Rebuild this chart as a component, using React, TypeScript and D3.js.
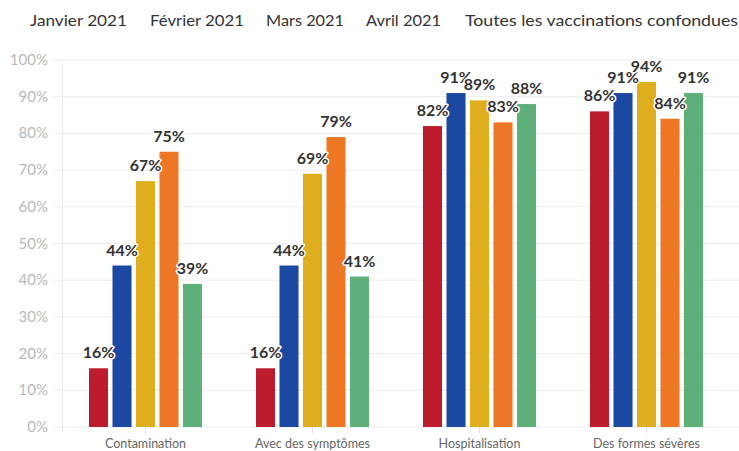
import React from "react";
import * as d3 from "d3";

const categories = ["Contamination", "Avec des symptômes", "Hospitalisation", "Des formes sévères"];
const seriesNames = ["Janvier 2021", "Février 2021", "Mars 2021", "Avril 2021", "Toutes les vaccinations confondues"];
const janvier = [16, 16, 82, 86];
const fevrier = [44, 44, 91, 91];
const mars = [67, 69, 89, 94];
const avril = [75, 79, 83, 84];
const toutes = [39, 41, 88, 91];
const seriesValues = [janvier, fevrier, mars, avril, toutes];
const colors = ["#bd1b2e", "#1b48a1", "#dfae1e", "#ed7725", "#5eb07b"];
const yTicks = [0, 10, 20, 30, 40, 50, 60, 70, 80, 90, 100];
const legendX = [30, 150, 266, 366, 465];
const legendW = [97, 94, 78, 75, 273];

const W = 739, H = 451;
const FONT = "Lato, 'Open Sans', sans-serif";

export default function App() {
  const x0 = d3.scaleBand<string>().domain(categories).range([62, 730]).paddingInner(0).paddingOuter(0);
  const bw = x0.bandwidth();
  const groupSpan = 113;
  const x1 = d3.scaleBand<number>().domain(d3.range(seriesNames.length)).range([(bw - groupSpan) / 2, (bw + groupSpan) / 2]).paddingInner(0.19).paddingOuter(0);
  const y = d3.scaleLinear().domain([0, 100]).range([427, 60]);

  return (
    <svg width={W} height={H} style={{ position: "absolute", left: 0, top: 0, fontFamily: FONT }}>
      <rect width={W} height={H} fill="#fff" />
      {yTicks.map((t) => (
        <g key={t}>
          <line x1={53} x2={739} y1={y(t)} y2={y(t)} stroke="#ececec" strokeWidth={1} />
          <text x={48} y={y(t) + 5} textAnchor="end" fontSize={15} fill="#b8b8b8">{t}%</text>
        </g>
      ))}
      <line x1={62.5} x2={62.5} y1={60} y2={432} stroke="#ececec" />
      {categories.map((c) => (
        <g key={c}>
          <line x1={x0(c)! + bw / 2} x2={x0(c)! + bw / 2} y1={427} y2={433} stroke="#e0e0e0" />
          <text x={x0(c)! + bw / 2} y={448} textAnchor="middle" fontSize={12.5} fill="#666">{c}</text>
        </g>
      ))}
      {seriesValues.map((vals, si) => (
        <g key={si}>
          {vals.map((v, ci) => (
            <rect key={ci} x={x0(categories[ci])! + x1(si)!} y={y(v)} width={x1.bandwidth()} height={y(0) - y(v)} fill={colors[si]} />
          ))}
        </g>
      ))}
      {seriesValues.map((vals, si) => (
        <g key={"l" + si}>
          {vals.map((v, ci) => (
            <text key={ci} x={x0(categories[ci])! + x1(si)! + x1.bandwidth() / 2} y={y(v) - 10} textAnchor="middle"
              fontSize={16} fontWeight="bold" fill="#333" stroke="#fff" strokeWidth={3} paintOrder="stroke" strokeLinejoin="round">{v}%</text>
          ))}
        </g>
      ))}
      {seriesNames.map((n, i) => (
        <text key={n} x={legendX[i]} y={26} fontSize={16} fill="#333" textLength={legendW[i]} lengthAdjust="spacingAndGlyphs">{n}</text>
      ))}
    </svg>
  );
}
